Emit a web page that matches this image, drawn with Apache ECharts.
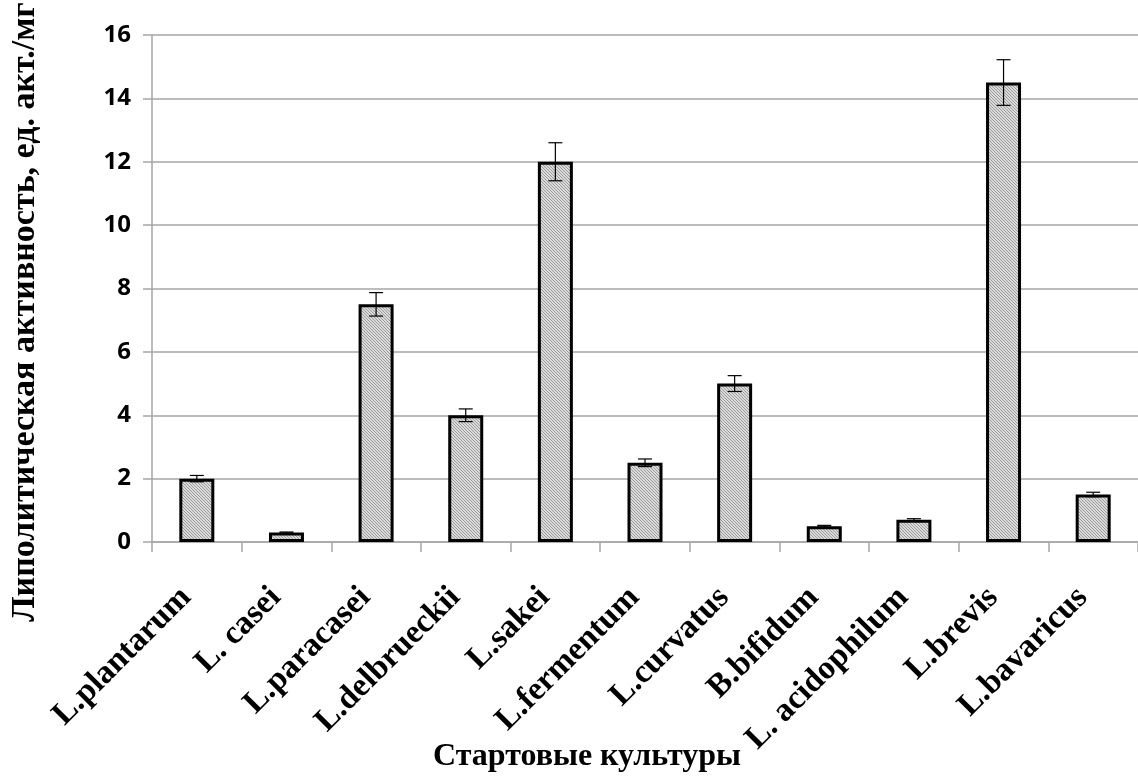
<!DOCTYPE html>
<html>
<head>
<meta charset="utf-8">
<script src="https://cdn.jsdelivr.net/npm/echarts@6/dist/echarts.min.js"></script>
<style>
  html, body { margin: 0; padding: 0; background: #fff; }
  #chart { width: 1138px; height: 781px; }
</style>
</head>
<body>
<div id="chart"></div>
<script>
// Starter cultures and their lipolytic activity (units of activity per mg)
const cultures = ['L.plantarum', 'L. casei', 'L.paracasei', 'L.delbrueckii', 'L.sakei',
  'L.fermentum', 'L.curvatus', 'B.bifidum', 'L. acidophilum', 'L.brevis', 'L.bavaricus'];
const activity = [2.0, 0.3, 7.5, 4.0, 12.0, 2.5, 5.0, 0.5, 0.7, 14.5, 1.5];
// Standard deviation for each culture
const deviation = [0.1, 0.015, 0.37, 0.2, 0.6, 0.12, 0.25, 0.025, 0.035, 0.72, 0.07];
const yTicks = [0, 2, 4, 6, 8, 10, 12, 14, 16];

const yTitle = 'Липолитическая активность, ед. акт./мг';
const xTitle = 'Стартовые культуры';

// Fine diagonal hatch used as the bar fill
function makeHatch() {
  const n = 3;
  const c = document.createElement('canvas');
  c.width = n; c.height = n;
  const ctx = c.getContext('2d');
  ctx.fillStyle = '#dadada';
  ctx.fillRect(0, 0, n, n);
  ctx.fillStyle = '#9c9c9c';
  for (let i = 0; i < n; i++) ctx.fillRect(i, i, 1, 1);
  return c;
}

const errorData = activity.map((v, i) => [i, v - deviation[i], v + deviation[i]]);

const chart = echarts.init(document.getElementById('chart'), null, { renderer: 'canvas' });

chart.setOption({
  animation: false,
  backgroundColor: '#fff',
  grid: { left: 152, top: 35, width: 1001, height: 507, containLabel: false },
  xAxis: {
    type: 'category',
    data: cultures,
    axisLine: { show: true, lineStyle: { color: '#a6a6a6', width: 1.5 } },
    axisTick: { show: true, length: 10, lineStyle: { color: '#a6a6a6', width: 1.5 } },
    axisLabel: {
      interval: 0,
      rotate: 45,
      margin: 40,
      padding: [0, 15, 0, 0],
      color: '#000',
      fontFamily: 'Liberation Serif',
      fontWeight: 'bold',
      fontSize: 33
    }
  },
  yAxis: {
    type: 'value',
    min: yTicks[0],
    max: yTicks[yTicks.length - 1],
    interval: 2,
    axisLine: { show: true, lineStyle: { color: '#a6a6a6', width: 1.5 } },
    axisTick: { show: true, length: 9, lineStyle: { color: '#a6a6a6', width: 1.5 } },
    splitLine: { show: true, lineStyle: { color: '#a6a6a6', width: 1.5 } },
    axisLabel: {
      margin: 21,
      color: '#000',
      fontFamily: 'Open Sans',
      fontWeight: 'bold',
      fontSize: 24
    }
  },
  graphic: [
    {
      type: 'text',
      x: 587, y: 757,
      style: {
        text: xTitle,
        fill: '#000',
        font: 'bold 32px "Liberation Serif"',
        align: 'center',
        verticalAlign: 'middle'
      }
    },
    {
      type: 'text',
      x: 25, y: 312,
      rotation: Math.PI / 2,
      style: {
        text: yTitle,
        fill: '#000',
        font: 'bold 34px "Liberation Serif"',
        align: 'center',
        verticalAlign: 'middle'
      }
    }
  ],
  series: [
    {
      type: 'bar',
      data: activity,
      barWidth: 35,
      itemStyle: {
        color: { image: makeHatch(), repeat: 'repeat' },
        borderColor: '#000',
        borderWidth: 3
      },
      z: 2
    },
    {
      type: 'custom',
      data: errorData,
      z: 3,
      renderItem: function (params, api) {
        const x = api.coord([api.value(0), 0])[0];
        const lo = api.coord([api.value(0), api.value(1)])[1];
        const hi = api.coord([api.value(0), api.value(2)])[1];
        const hw = 7;
        const style = { stroke: '#000', lineWidth: 1.2 };
        return {
          type: 'group',
          children: [
            { type: 'line', shape: { x1: x, y1: lo, x2: x, y2: hi }, style: style },
            { type: 'line', shape: { x1: x - hw, y1: hi, x2: x + hw, y2: hi }, style: style },
            { type: 'line', shape: { x1: x - hw, y1: lo, x2: x + hw, y2: lo }, style: style }
          ]
        };
      }
    }
  ]
});
</script>
</body>
</html>
